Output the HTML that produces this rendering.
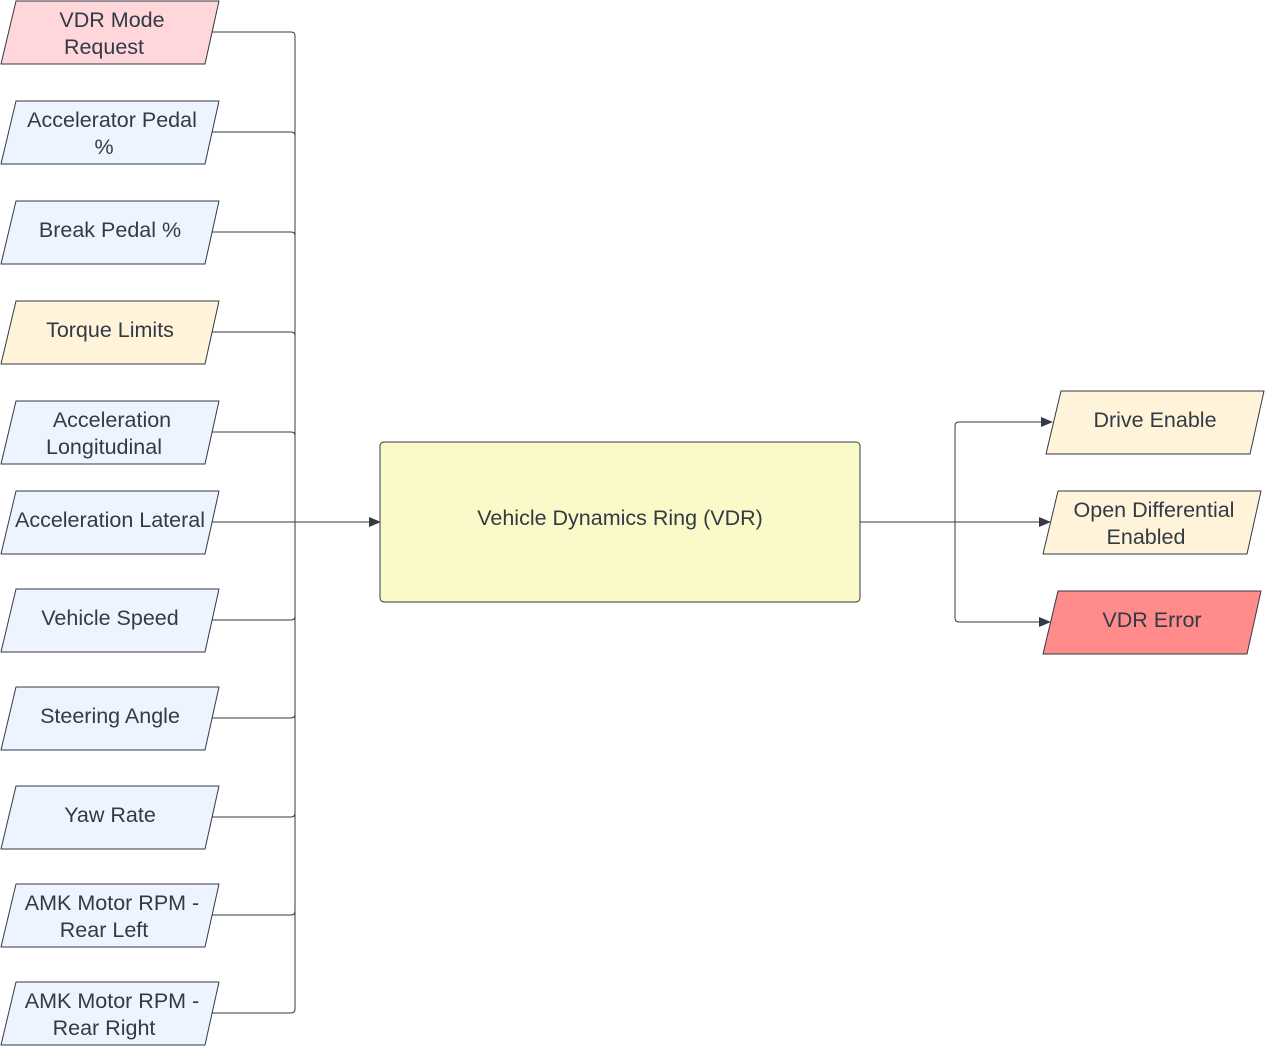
<!DOCTYPE html>
<html><head><meta charset="utf-8"><style>
html,body{margin:0;padding:0;background:#fff;}
svg{display:block;}
text{font-family:"Liberation Sans",Arial,sans-serif;font-size:21.5px;fill:#333a45;text-anchor:middle;}
</style></head><body>
<svg width="1265" height="1046" viewBox="0 0 1265 1046" xmlns="http://www.w3.org/2000/svg">
<defs>
<marker id="ar" markerWidth="12" markerHeight="10" refX="11" refY="5" orient="auto" markerUnits="userSpaceOnUse">
<path d="M0,0 L12,5 L0,10 Z" fill="#333a45"/></marker>
</defs>
<g fill="none" stroke="#333a45" stroke-width="1">
<path d="M212,32 H291 Q295,32 295,36 V1009 Q295,1013 291,1013 H212"/>
<path d="M212,132 H291 Q295,132 295,136"/>
<path d="M212,232 H291 Q295,232 295,236"/>
<path d="M212,332 H291 Q295,332 295,336"/>
<path d="M212,432 H291 Q295,432 295,436"/>
<path d="M212,522 H295"/>
<path d="M212,620 H291 Q295,620 295,616"/>
<path d="M212,718 H291 Q295,718 295,714"/>
<path d="M212,817 H291 Q295,817 295,813"/>
<path d="M212,915 H291 Q295,915 295,911"/>
<path d="M295,522 H380" marker-end="url(#ar)"/>
<path d="M860,522 H1050" marker-end="url(#ar)"/>
<path d="M955,522 V426 Q955,422 959,422 H1052" marker-end="url(#ar)"/>
<path d="M955,522 V618 Q955,622 959,622 H1050" marker-end="url(#ar)"/>
</g>
<g stroke="#333a45" stroke-width="1" stroke-linejoin="round">
<g stroke-width="1">
<path d="M16,1 H219 L205,64 H1 Z" fill="#ffd6d9"/>
<path d="M16,101 H219 L205,164 H1 Z" fill="#edf4ff"/>
<path d="M16,201 H219 L205,264 H1 Z" fill="#edf4ff"/>
<path d="M16,301 H219 L205,364 H1 Z" fill="#fff3d9"/>
<path d="M16,401 H219 L205,464 H1 Z" fill="#edf4ff"/>
<path d="M16,491 H219 L205,554 H1 Z" fill="#edf4ff"/>
<path d="M16,589 H219 L205,652 H1 Z" fill="#edf4ff"/>
<path d="M16,687 H219 L205,750 H1 Z" fill="#edf4ff"/>
<path d="M16,786 H219 L205,849 H1 Z" fill="#edf4ff"/>
<path d="M16,884 H219 L205,947 H1 Z" fill="#edf4ff"/>
<path d="M16,982 H219 L205,1045 H1 Z" fill="#edf4ff"/>
</g>
<rect x="380" y="442" width="480" height="160" rx="4" fill="#fafac8"/>
<path d="M1061,391 H1264 L1250,454 H1046 Z" fill="#fff3d9"/>
<path d="M1058,491 H1261 L1247,554 H1043 Z" fill="#fff3d9"/>
<path d="M1058,591 H1261 L1247,654 H1043 Z" fill="#ff8b8a"/>
</g>
<text x="112" y="27">VDR Mode</text><text x="104" y="54">Request</text>
<text x="112" y="127">Accelerator Pedal</text><text x="104" y="154">%</text>
<text x="110" y="237">Break Pedal %</text>
<text x="110" y="337">Torque Limits</text>
<text x="112" y="427">Acceleration</text><text x="104" y="454">Longitudinal</text>
<text x="110" y="527">Acceleration Lateral</text>
<text x="110" y="625">Vehicle Speed</text>
<text x="110" y="723">Steering Angle</text>
<text x="110" y="822">Yaw Rate</text>
<text x="112" y="910">AMK Motor RPM -</text><text x="104" y="937">Rear Left</text>
<text x="112" y="1008">AMK Motor RPM -</text><text x="104" y="1035">Rear Right</text>
<text x="620" y="525">Vehicle Dynamics Ring (VDR)</text>
<text x="1155" y="427">Drive Enable</text>
<text x="1154" y="517">Open Differential</text><text x="1146" y="544">Enabled</text>
<text x="1152" y="627">VDR Error</text>
</svg>
</body></html>
